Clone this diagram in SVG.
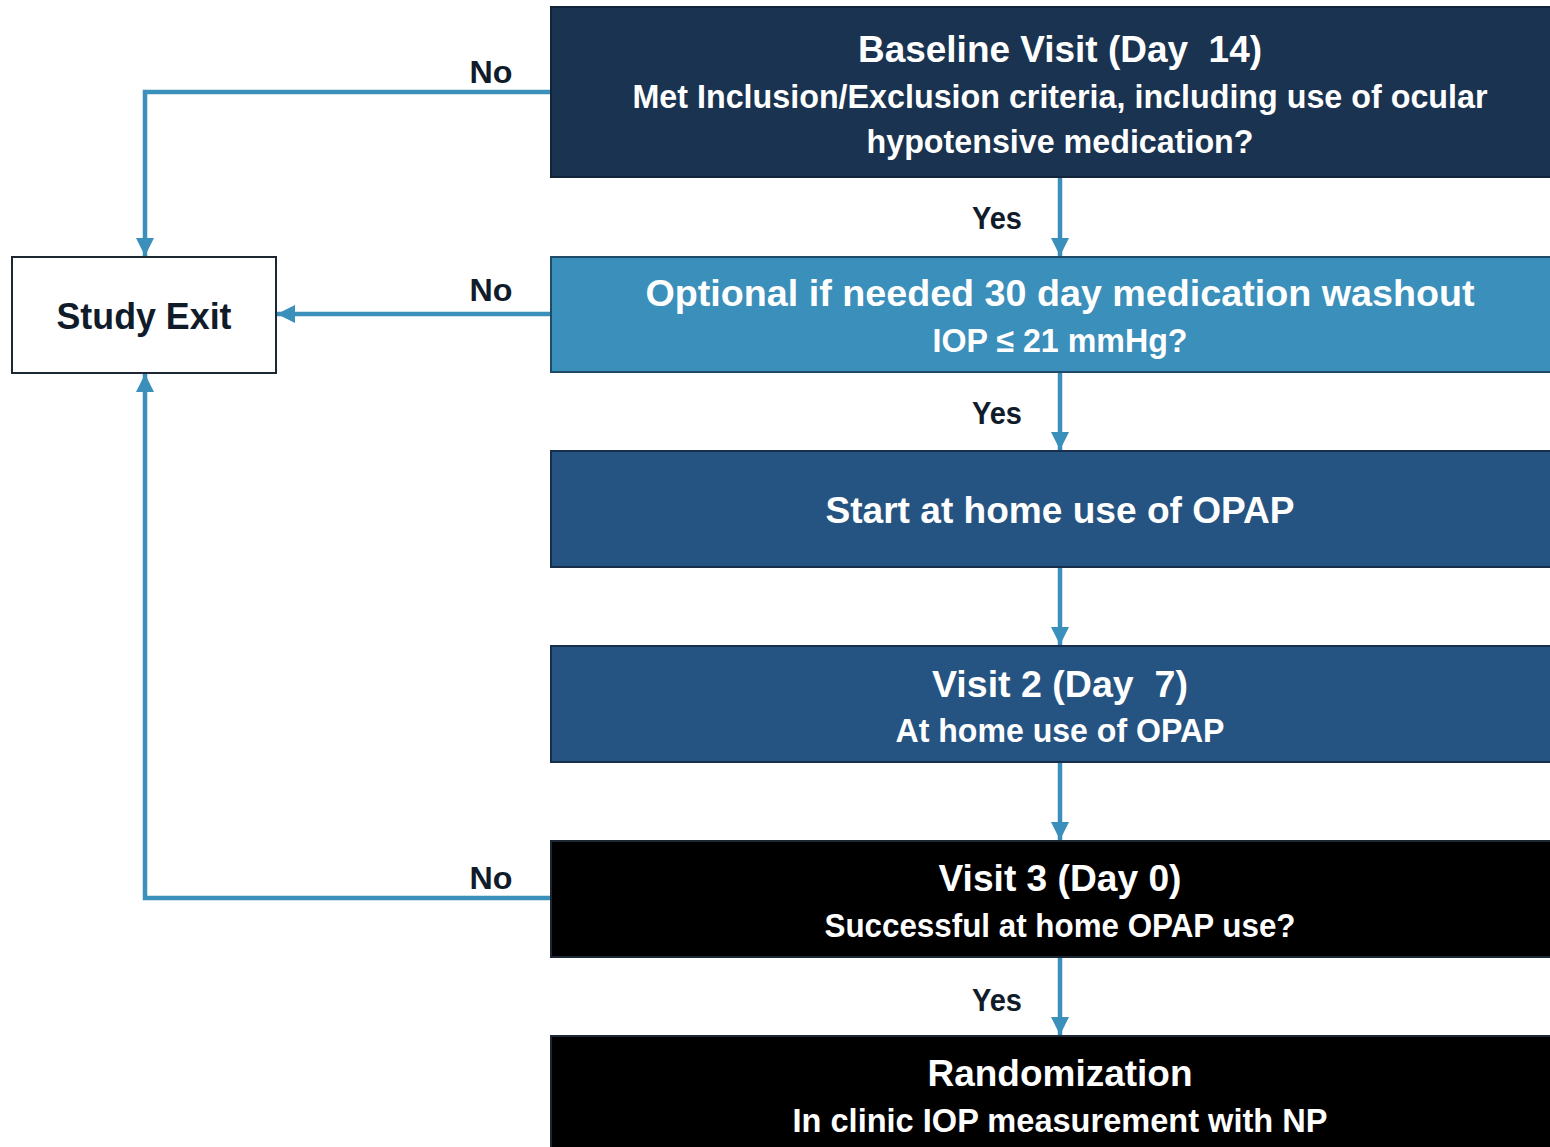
<svg xmlns="http://www.w3.org/2000/svg" width="1550" height="1147" viewBox="0 0 1550 1147">
<style>
text{font-family:"Liberation Sans",Arial,sans-serif;font-weight:bold;text-anchor:middle;white-space:pre}
.w{fill:#ffffff}
.d{fill:#111c2b}
.t{font-size:37px}
.s{font-size:33px}
.lbl{font-size:31px}
.c{fill:none;stroke:#3a8fbb;stroke-width:4.5}
</style>
<defs>
<marker id="ah" viewBox="0 0 10 10" refX="10" refY="5" markerWidth="4" markerHeight="4" orient="auto" markerUnits="strokeWidth">
<path d="M0,0 L10,5 L0,10 Z" fill="#3a8fbb"/>
</marker>
</defs>
<rect width="1550" height="1147" fill="#ffffff"/>
<g id="connectors">
<path class="c" d="M551,92 H145 V256" marker-end="url(#ah)"/>
<path class="c" d="M551,314 H277" marker-end="url(#ah)"/>
<path class="c" d="M551,898 H145 V374" marker-end="url(#ah)"/>
<path class="c" d="M1060,177 V256" marker-end="url(#ah)"/>
<path class="c" d="M1060,372 V450" marker-end="url(#ah)"/>
<path class="c" d="M1060,567 V645" marker-end="url(#ah)"/>
<path class="c" d="M1060,762 V840" marker-end="url(#ah)"/>
<path class="c" d="M1060,957 V1035" marker-end="url(#ah)"/>
<text class="d lbl" x="491" y="83" textLength="43" lengthAdjust="spacingAndGlyphs">No</text>
<text class="d lbl" x="491" y="301" textLength="43" lengthAdjust="spacingAndGlyphs">No</text>
<text class="d lbl" x="491" y="889" textLength="43" lengthAdjust="spacingAndGlyphs">No</text>
<text class="d lbl" x="997" y="229" textLength="50" lengthAdjust="spacingAndGlyphs">Yes</text>
<text class="d lbl" x="997" y="424" textLength="50" lengthAdjust="spacingAndGlyphs">Yes</text>
<text class="d lbl" x="997" y="1011" textLength="50" lengthAdjust="spacingAndGlyphs">Yes</text>
</g>
<g id="baseline">
<rect x="551" y="7" width="1001" height="170" fill="#1a3350" stroke="#13243a" stroke-width="2"/>
<text class="w t" x="1060" y="62" textLength="404" lengthAdjust="spacingAndGlyphs">Baseline Visit (Day&#160; 14)</text>
<text class="w s" x="1060" y="108" textLength="855" lengthAdjust="spacingAndGlyphs">Met Inclusion/Exclusion criteria, including use of ocular</text>
<text class="w s" x="1060" y="153" textLength="387" lengthAdjust="spacingAndGlyphs">hypotensive medication?</text>
</g>
<g id="washout">
<rect x="551" y="257" width="1001" height="115" fill="#3a8fbb" stroke="#1f4a68" stroke-width="2"/>
<text class="w t" x="1060" y="306" textLength="829" lengthAdjust="spacingAndGlyphs">Optional if needed 30 day medication washout</text>
<text class="w s" x="1060" y="352" textLength="255" lengthAdjust="spacingAndGlyphs">IOP ≤ 21 mmHg?</text>
</g>
<g id="start">
<rect x="551" y="451" width="1001" height="116" fill="#265482" stroke="#172f4a" stroke-width="2"/>
<text class="w t" x="1060" y="523" textLength="469" lengthAdjust="spacingAndGlyphs">Start at home use of OPAP</text>
</g>
<g id="visit2">
<rect x="551" y="646" width="1001" height="116" fill="#265482" stroke="#172f4a" stroke-width="2"/>
<text class="w t" x="1060" y="697" textLength="256" lengthAdjust="spacingAndGlyphs">Visit 2 (Day&#160; 7)</text>
<text class="w s" x="1060" y="742" textLength="329" lengthAdjust="spacingAndGlyphs">At home use of OPAP</text>
</g>
<g id="visit3">
<rect x="551" y="841" width="1001" height="116" fill="#000000" stroke="#1d2733" stroke-width="2"/>
<text class="w t" x="1060" y="891" textLength="243" lengthAdjust="spacingAndGlyphs">Visit 3 (Day 0)</text>
<text class="w s" x="1060" y="937" textLength="471" lengthAdjust="spacingAndGlyphs">Successful at home OPAP use?</text>
</g>
<g id="randomization">
<rect x="551" y="1036" width="1001" height="115" fill="#000000" stroke="#1d2733" stroke-width="2"/>
<text class="w t" x="1060" y="1086" textLength="265" lengthAdjust="spacingAndGlyphs">Randomization</text>
<text class="w s" x="1060" y="1132" textLength="535" lengthAdjust="spacingAndGlyphs">In clinic IOP measurement with NP</text>
</g>
<g id="study-exit">
<rect x="12" y="257" width="264" height="116" fill="#ffffff" stroke="#1d2733" stroke-width="2"/>
<text class="d t" x="144" y="329" textLength="175" lengthAdjust="spacingAndGlyphs">Study Exit</text>
</g>
</svg>
